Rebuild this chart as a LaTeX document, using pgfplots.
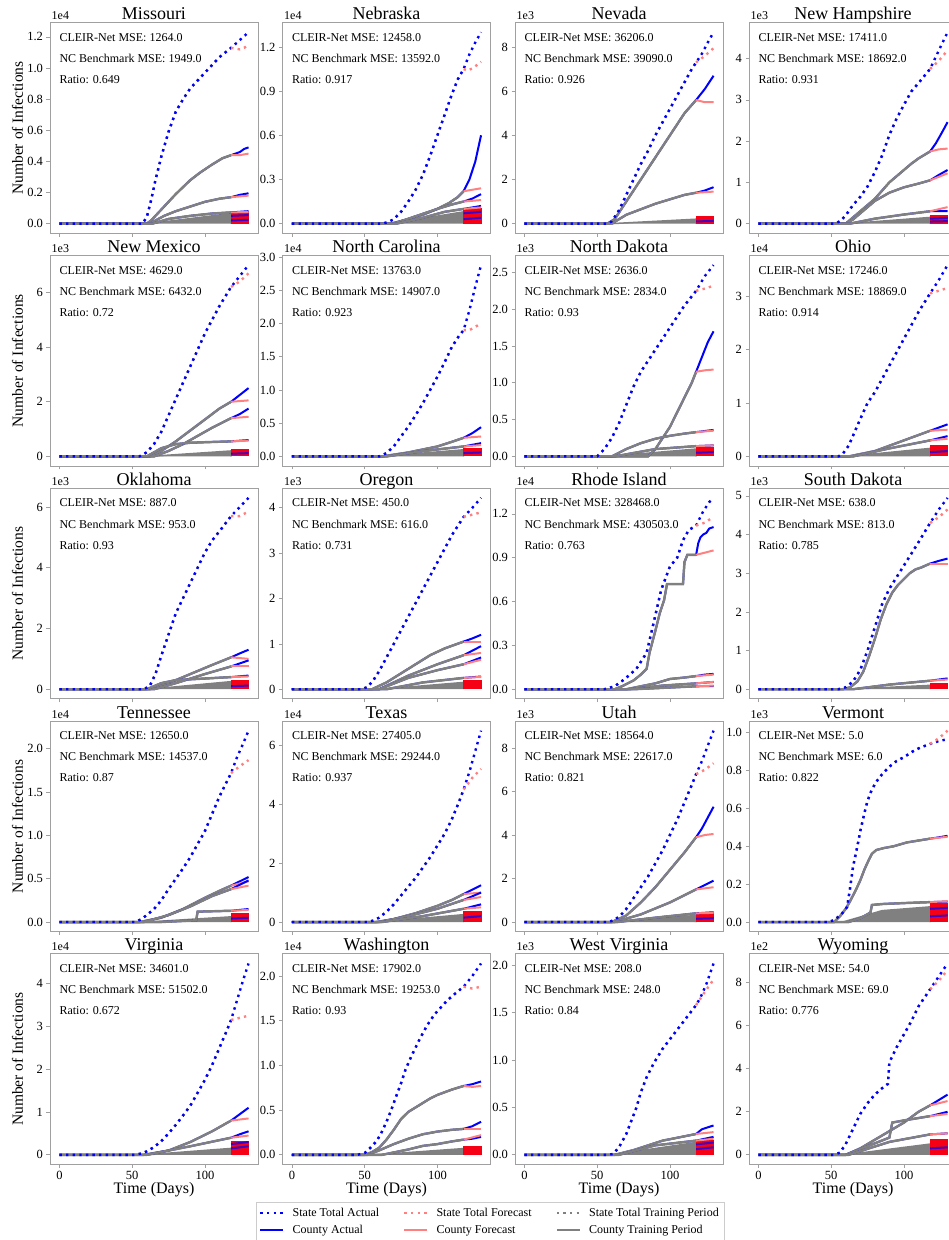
\documentclass[border=0pt]{standalone}
\usepackage{pgfplots}
\pgfplotsset{compat=1.18}
\usepackage{fontspec}
\setmainfont{Liberation Serif}
\usetikzlibrary{calc}
\definecolor{cblue}{RGB}{0,0,255}
\definecolor{csal}{RGB}{255,128,128}
\definecolor{cgray}{RGB}{128,128,128}
\definecolor{cred}{RGB}{245,0,20}
\definecolor{framec}{RGB}{160,160,160}
\newcommand\titlefont{\fontsize{18}{20}\selectfont}
\newcommand\annfont{\fontsize{12}{14}\selectfont}
\newcommand\tickfont{\fontsize{12.5}{14}\selectfont}
\newcommand\sclfont{\fontsize{12}{14}\selectfont}
\newcommand\ylabfont{\fontsize{15.5}{17}\selectfont}
\newcommand\xlabfont{\fontsize{16}{18}\selectfont}
\newcommand\legfont{\fontsize{12}{14}\selectfont}
\pgfplotsset{
 panel/.style={scale only axis, width=208pt, height=210.5pt, anchor=north west,
  xmin=-6.5, xmax=136.5, xtick={0,50,100}, xticklabels={},
  tick align=outside, tick pos=left, major tick length=3.5pt,
  every tick/.style={draw=framec, line width=0.7pt},
  axis line style={draw=framec, line width=0.8pt},
  tick label style={font=\tickfont, text=black},
  clip=false},
 bottomrow/.style={xticklabels={0,50,100}},
 sact/.style={cblue, line width=2.4pt, dash pattern=on 2.4pt off 4.2pt, forget plot},
 sfc/.style={csal, line width=2.4pt, dash pattern=on 2.4pt off 4.2pt, forget plot},
 sttr/.style={cgray, line width=2.4pt, dash pattern=on 2.4pt off 4.2pt, forget plot},
 cact/.style={cblue, line width=2pt, forget plot},
 ctr/.style={cgray, line width=2.4pt, forget plot},
 cfc/.style={csal, line width=2pt, forget plot},
 mgr/.style={fill=cgray, draw=cgray, line width=1.5pt, forget plot},
 mred/.style={fill=cred, draw=cred, line width=1pt, forget plot},
}
\newcommand\st[3]{\addplot[sttr] coordinates {#1}; \addplot[sact] coordinates {#1 #2}; \addplot[sfc] coordinates {#3};}
\newcommand\ct[3]{\addplot[cact] coordinates {#1 #2}; \addplot[ctr] coordinates {#1}; \addplot[cfc] coordinates {#3};}
\newcommand\ms[3]{\addplot[mgr] coordinates {(#1,0) (118,#2) (118,0)}; \addplot[mred] coordinates {(118,0) (118,#3) (130,#3) (130,0)};}
\newcommand\bl[2]{\addplot[cact, opacity=0.75] coordinates {(118,#1) (130,#2)};}
\newcommand\deco[5]{%
 \node[anchor=base, font=\titlefont] at ($(rel axis cs:0.5,1)+(0pt,3pt)$) {#1};
 \node[anchor=base west, font=\sclfont, inner sep=0pt] at ($(rel axis cs:0,1)+(1.5pt,3pt)$) {#2};
 \node[anchor=west, font=\annfont, inner sep=0pt] at (rel axis cs:0.045,0.93) {CLEIR-Net MSE: #3};
 \node[anchor=west, font=\annfont, inner sep=0pt] at (rel axis cs:0.045,0.83) {NC Benchmark MSE: #4};
 \node[anchor=west, font=\annfont, inner sep=0pt] at (rel axis cs:0.045,0.73) {Ratio: #5};}
\newcommand\ylab{\node[rotate=90, font=\ylabfont] at ($(rel axis cs:0,0.5)+(-32.5pt,0pt)$) {Number of Infections};}
\newcommand\xlab{\node[anchor=base, font=\xlabfont] at ($(rel axis cs:0.5,0)+(0pt,-29.5pt)$) {Time (Days)};}
\begin{document}
\begin{tikzpicture}
\useasboundingbox (0pt,0pt) rectangle (949pt,1240pt);
% ---------------- Row 1
\begin{axis}[panel, at={(50pt,1217.3pt)}, ymin=-0.0615, ymax=1.2915, ytick={0,0.2,0.4,0.6,0.8,1.0,1.2}, yticklabels={0.0,0.2,0.4,0.6,0.8,1.0,1.2}]
\ms{62}{0.065}{0.075}
\ct{(0,0)(60,0)(63,0.02)(67,0.06)(72,0.11)(80,0.19)(90,0.28)(97,0.33)(105,0.38)(112,0.42)(118,0.44)}{(121,0.45)(124,0.46)(127,0.48)(130,0.49)}{(118,0.44)(124,0.44)(130,0.45)}
\ct{(0,0)(62,0)(66,0.02)(72,0.05)(80,0.08)(90,0.11)(100,0.14)(110,0.16)(118,0.17)}{(124,0.185)(130,0.195)}{(118,0.17)(130,0.18)}
\ct{(0,0)(64,0)(75,0.03)(90,0.05)(105,0.065)(118,0.072)}{(130,0.08)}{(118,0.072)(130,0.075)}
\bl{0.02}{0.025}\bl{0.05}{0.055}
\st{(0,0)(57,0)(60,0.04)(63,0.15)(66,0.28)(70,0.43)(75,0.59)(80,0.72)(85,0.8)(90,0.87)(97,0.94)(104,1.01)(110,1.07)(118,1.13)}{(124,1.18)(130,1.23)}{(118,1.13)(124,1.12)(127,1.13)(130,1.15)}
\deco{Missouri}{1e4}{1264.0}{1949.0}{0.649}
\ylab
\end{axis}
\begin{axis}[panel, at={(282.5pt,1217.3pt)}, ymin=-0.065, ymax=1.365, ytick={0,0.3,0.6,0.9,1.2}, yticklabels={0.0,0.3,0.6,0.9,1.2}]
\ms{68}{0.08}{0.1}
\ct{(0,0)(68,0)(80,0.03)(90,0.06)(100,0.1)(108,0.14)(114,0.18)(118,0.22)}{(122,0.3)(126,0.42)(130,0.6)}{(118,0.22)(124,0.23)(130,0.24)}
\ct{(0,0)(70,0)(85,0.05)(100,0.1)(110,0.13)(118,0.15)}{(124,0.17)(130,0.2)}{(118,0.15)(130,0.16)}
\ct{(0,0)(72,0)(90,0.04)(105,0.08)(118,0.1)}{(130,0.12)}{(118,0.1)(130,0.11)}
\bl{0.03}{0.04}\bl{0.07}{0.08}
\st{(0,0)(62,0)(66,0.01)(70,0.03)(75,0.08)(80,0.15)(85,0.23)(90,0.33)(95,0.46)(100,0.6)(105,0.74)(110,0.88)(114,0.98)(118,1.05)}{(122,1.15)(126,1.23)(130,1.3)}{(118,1.05)(121,1.04)(125,1.06)(130,1.1)}
\deco{Nebraska}{1e4}{12458.0}{13592.0}{0.917}
\end{axis}
\begin{axis}[panel, at={(515pt,1217.3pt)}, ymin=-0.4335, ymax=9.1035, ytick={0,2,4,6,8}, yticklabels={0,2,4,6,8}]
\ms{60}{0.2}{0.3}
\ct{(0,0)(57,0)(62,0.2)(70,1.0)(80,2.0)(90,3.0)(100,4.0)(110,5.0)(118,5.6)}{(124,6.1)(130,6.7)}{(118,5.6)(124,5.5)(130,5.5)}
\ct{(0,0)(60,0)(70,0.4)(80,0.65)(90,0.9)(100,1.1)(110,1.3)(118,1.4)}{(124,1.5)(130,1.65)}{(118,1.4)(130,1.45)}
\bl{0.1}{0.12}
\st{(0,0)(57,0)(60,0.1)(65,0.6)(70,1.3)(75,2.0)(80,2.7)(85,3.3)(90,4.0)(95,4.6)(100,5.2)(105,5.8)(110,6.4)(115,7.0)(118,7.3)}{(122,7.7)(126,8.2)(130,8.67)}{(118,7.3)(124,7.6)(130,7.95)}
\deco{Nevada}{1e3}{36206.0}{39090.0}{0.926}
\end{axis}
\begin{axis}[panel, at={(749pt,1217.3pt)}, ymin=-0.232, ymax=4.872, ytick={0,1,2,3,4}, yticklabels={0,1,2,3,4}]
\ms{62}{0.15}{0.2}
\ct{(0,0)(60,0)(65,0.15)(70,0.3)(75,0.45)(80,0.6)(85,0.8)(90,1.0)(95,1.15)(100,1.3)(105,1.45)(110,1.58)(118,1.75)}{(122,1.95)(126,2.2)(130,2.46)}{(118,1.75)(124,1.8)(130,1.82)}
\ct{(0,0)(60,0)(65,0.1)(70,0.25)(75,0.4)(80,0.55)(85,0.65)(90,0.75)(100,0.88)(110,0.97)(118,1.05)}{(124,1.18)(130,1.3)}{(118,1.05)(130,1.22)}
\ct{(0,0)(63,0)(80,0.12)(100,0.22)(118,0.3)}{(130,0.3)}{(118,0.3)(130,0.4)}
\bl{0.05}{0.06}\bl{0.12}{0.14}
\st{(0,0)(53,0)(57,0.08)(61,0.25)(65,0.45)(70,0.65)(75,0.9)(80,1.25)(85,1.65)(90,2.15)(95,2.55)(100,2.88)(105,3.2)(111,3.45)(118,3.75)}{(124,4.2)(130,4.64)}{(118,3.75)(124,3.95)(130,4.2)}
\deco{New Hampshire}{1e3}{17411.0}{18692.0}{0.931}
\end{axis}
% ---------------- Row 2
\begin{axis}[panel, at={(50pt,984.5pt)}, ymin=-0.35, ymax=7.35, ytick={0,2,4,6}, yticklabels={0,2,4,6}]
\ms{62}{0.2}{0.25}
\ct{(0,0)(62,0)(70,0.2)(80,0.55)(90,0.95)(100,1.35)(110,1.75)(118,2.0)}{(124,2.25)(130,2.5)}{(118,2.0)(130,2.05)}
\ct{(0,0)(65,0)(75,0.2)(85,0.45)(95,0.75)(105,1.05)(118,1.4)}{(124,1.55)(130,1.75)}{(118,1.4)(130,1.45)}
\ct{(0,0)(60,0)(70,0.3)(80,0.45)(90,0.5)(100,0.52)(118,0.55)}{(130,0.6)}{(118,0.55)(130,0.58)}
\bl{0.1}{0.12}
\st{(0,0)(55,0)(60,0.15)(65,0.45)(70,0.9)(75,1.5)(80,2.1)(85,2.7)(90,3.3)(95,3.9)(100,4.5)(105,5.0)(110,5.5)(118,6.2)}{(124,6.6)(130,7.0)}{(118,6.2)(124,6.4)(130,6.7)}
\deco{New Mexico}{1e3}{4629.0}{6432.0}{0.72}
\ylab
\end{axis}
\begin{axis}[panel, at={(282.5pt,984.5pt)}, ymin=-0.144, ymax=3.024, ytick={0,0.5,1.0,1.5,2.0,2.5,3.0}, yticklabels={0.0,0.5,1.0,1.5,2.0,2.5,3.0}]
\ms{62}{0.1}{0.12}
\ct{(0,0)(62,0)(80,0.06)(100,0.15)(110,0.22)(118,0.28)}{(124,0.35)(130,0.44)}{(118,0.28)(130,0.3)}
\ct{(0,0)(65,0)(90,0.08)(118,0.15)}{(130,0.2)}{(118,0.15)(130,0.17)}
\bl{0.05}{0.06}
\st{(0,0)(60,0)(65,0.05)(70,0.15)(75,0.3)(80,0.45)(85,0.62)(90,0.8)(95,1.0)(100,1.2)(105,1.42)(110,1.65)(115,1.82)(118,1.9)}{(122,2.2)(126,2.55)(130,2.88)}{(118,1.9)(122,1.9)(126,1.95)(130,2.0)}
\deco{North Carolina}{1e4}{13763.0}{14907.0}{0.923}
\end{axis}
\begin{axis}[panel, at={(515pt,984.5pt)}, ymin=-0.13, ymax=2.73, ytick={0,0.5,1.0,1.5,2.0,2.5}, yticklabels={0.0,0.5,1.0,1.5,2.0,2.5}]
\ms{58}{0.1}{0.12}
\ct{(0,0)(85,0)(90,0.1)(95,0.25)(100,0.4)(105,0.6)(110,0.8)(115,1.0)(118,1.15)}{(122,1.35)(126,1.55)(130,1.7)}{(118,1.15)(124,1.17)(130,1.18)}
\ct{(0,0)(60,0)(70,0.1)(80,0.18)(90,0.24)(100,0.28)(110,0.31)(118,0.33)}{(130,0.36)}{(118,0.33)(130,0.35)}
\ct{(0,0)(62,0)(90,0.1)(118,0.14)}{(130,0.15)}{(118,0.14)(130,0.15)}
\bl{0.05}{0.06}
\st{(0,0)(50,0)(55,0.1)(60,0.25)(65,0.45)(70,0.7)(75,0.95)(80,1.15)(85,1.3)(90,1.45)(95,1.6)(100,1.75)(105,1.9)(110,2.05)(118,2.25)}{(124,2.45)(130,2.6)}{(118,2.25)(124,2.28)(130,2.32)}
\deco{North Dakota}{1e3}{2636.0}{2834.0}{0.93}
\end{axis}
\begin{axis}[panel, at={(749pt,984.5pt)}, ymin=-0.179, ymax=3.759, ytick={0,1,2,3}, yticklabels={0,1,2,3}]
\ms{62}{0.15}{0.2}
\ct{(0,0)(62,0)(80,0.1)(100,0.3)(118,0.48)}{(124,0.54)(130,0.6)}{(118,0.48)(130,0.5)}
\ct{(0,0)(65,0)(90,0.15)(118,0.3)}{(130,0.38)}{(118,0.3)(130,0.33)}
\bl{0.08}{0.1}
\st{(0,0)(55,0)(58,0.05)(62,0.2)(66,0.45)(70,0.7)(75,1.0)(80,1.2)(85,1.45)(90,1.7)(95,1.95)(100,2.2)(105,2.45)(110,2.7)(118,3.05)}{(124,3.3)(130,3.58)}{(118,3.05)(124,3.1)(130,3.15)}
\deco{Ohio}{1e4}{17246.0}{18869.0}{0.914}
\end{axis}
% ---------------- Row 3
\begin{axis}[panel, at={(50pt,751.7pt)}, ymin=-0.315, ymax=6.615, ytick={0,2,4,6}, yticklabels={0,2,4,6}]
\ms{62}{0.25}{0.3}
\ct{(0,0)(62,0)(75,0.2)(90,0.5)(105,0.8)(118,1.05)}{(124,1.18)(130,1.3)}{(118,1.05)(130,1.0)}
\ct{(0,0)(65,0)(80,0.2)(100,0.5)(118,0.75)}{(130,0.95)}{(118,0.75)(130,0.75)}
\ct{(0,0)(60,0)(70,0.2)(80,0.3)(118,0.4)}{(130,0.45)}{(118,0.4)(130,0.42)}
\bl{0.1}{0.12}
\st{(0,0)(58,0)(62,0.1)(66,0.5)(70,1.1)(75,1.8)(80,2.5)(85,3.0)(90,3.5)(95,4.0)(100,4.5)(105,4.9)(110,5.2)(118,5.7)}{(124,6.0)(130,6.3)}{(118,5.7)(124,5.7)(130,5.85)}
\deco{Oklahoma}{1e3}{887.0}{953.0}{0.93}
\ylab
\end{axis}
\begin{axis}[panel, at={(282.5pt,751.7pt)}, ymin=-0.211, ymax=4.431, ytick={0,1,2,3,4}, yticklabels={0,1,2,3,4}]
\ms{62}{0.15}{0.2}
\ct{(0,0)(55,0)(65,0.15)(75,0.35)(85,0.55)(95,0.75)(105,0.9)(118,1.05)}{(124,1.12)(130,1.2)}{(118,1.05)(130,1.05)}
\ct{(0,0)(60,0)(80,0.3)(100,0.55)(118,0.75)}{(130,0.95)}{(118,0.75)(130,0.8)}
\ct{(0,0)(60,0)(80,0.25)(100,0.42)(118,0.55)}{(130,0.7)}{(118,0.55)(130,0.65)}
\ct{(0,0)(65,0)(90,0.15)(118,0.25)}{(130,0.28)}{(118,0.25)(130,0.27)}
\st{(0,0)(48,0)(52,0.05)(56,0.2)(60,0.4)(65,0.7)(70,1.0)(75,1.3)(80,1.6)(85,1.9)(90,2.2)(95,2.5)(100,2.8)(105,3.1)(110,3.4)(118,3.8)}{(124,4.0)(130,4.22)}{(118,3.8)(124,3.85)(130,3.9)}
\deco{Oregon}{1e3}{450.0}{616.0}{0.731}
\end{axis}
\begin{axis}[panel, at={(515pt,751.7pt)}, ymin=-0.0655, ymax=1.3755, ytick={0,0.3,0.6,0.9,1.2}, yticklabels={0.0,0.3,0.6,0.9,1.2}]
\ct{(0,0)(62,0)(67,0.02)(75,0.06)(80,0.1)(84,0.14)(86,0.25)(90,0.4)(93,0.52)(96,0.61)(98,0.72)(109,0.72)(110,0.87)(112,0.92)(118,0.92)}{(119.5,1.0)(121,1.04)(123,1.06)(125,1.07)(127,1.1)(130,1.11)}{(118,0.92)(130,0.95)}
\ct{(0,0)(70,0)(90,0.04)(100,0.07)(110,0.08)(118,0.09)}{(124,0.1)(130,0.105)}{(118,0.09)(130,0.1)}
\ct{(0,0)(72,0)(95,0.025)(118,0.04)}{(130,0.05)}{(118,0.04)(130,0.05)}
\ct{(0,0)(75,0)(118,0.02)}{(130,0.022)}{(118,0.02)(130,0.025)}
\st{(0,0)(55,0)(62,0.02)(69,0.07)(77,0.14)(84,0.25)(88,0.42)(94,0.68)(100,0.84)(105,0.9)(109,1.02)(113,1.09)(118,1.12)}{(123,1.22)(127,1.28)(130,1.31)}{(118,1.12)(124,1.14)(130,1.18)}
\deco{Rhode Island}{1e4}{328468.0}{430503.0}{0.763}
\end{axis}
\begin{axis}[panel, at={(749pt,751.7pt)}, ymin=-0.2475, ymax=5.1975, ytick={0,1,2,3,4,5}, yticklabels={0,1,2,3,4,5}]
\ms{62}{0.1}{0.15}
\ct{(0,0)(58,0)(63,0.05)(68,0.2)(72,0.45)(76,0.85)(80,1.3)(84,1.8)(88,2.2)(92,2.5)(96,2.7)(100,2.85)(104,3.0)(108,3.1)(112,3.15)(118,3.25)}{(124,3.32)(130,3.38)}{(118,3.25)(130,3.25)}
\ct{(0,0)(65,0)(90,0.12)(118,0.22)}{(130,0.28)}{(118,0.22)(130,0.25)}
\st{(0,0)(55,0)(60,0.05)(65,0.2)(70,0.5)(75,1.0)(80,1.6)(85,2.2)(90,2.6)(95,2.9)(100,3.2)(105,3.5)(110,3.8)(118,4.3)}{(124,4.65)(130,4.95)}{(118,4.3)(124,4.45)(130,4.65)}
\deco{South Dakota}{1e3}{638.0}{813.0}{0.785}
\end{axis}
% ---------------- Row 4
\begin{axis}[panel, at={(50pt,518.9pt)}, ymin=-0.1105, ymax=2.3205, ytick={0,0.5,1.0,1.5,2.0}, yticklabels={0.0,0.5,1.0,1.5,2.0}]
\ms{60}{0.06}{0.1}
\ct{(0,0)(55,0)(70,0.05)(85,0.15)(100,0.28)(110,0.36)(118,0.42)}{(124,0.47)(130,0.52)}{(118,0.42)(130,0.47)}
\ct{(0,0)(58,0)(75,0.08)(90,0.18)(105,0.3)(118,0.38)}{(124,0.43)(130,0.48)}{(118,0.38)(130,0.42)}
\ct{(0,0)(70,0)(94,0.02)(95,0.12)(118,0.13)}{(130,0.15)}{(118,0.13)(130,0.14)}
\bl{0.04}{0.05}
\st{(0,0)(52,0)(56,0.03)(60,0.08)(65,0.15)(70,0.25)(75,0.38)(80,0.5)(85,0.62)(90,0.75)(95,0.9)(100,1.05)(105,1.25)(110,1.45)(115,1.62)(118,1.72)}{(122,1.9)(126,2.05)(130,2.21)}{(118,1.72)(124,1.8)(130,1.87)}
\deco{Tennessee}{1e4}{12650.0}{14537.0}{0.87}
\ylab
\end{axis}
\begin{axis}[panel, at={(282.5pt,518.9pt)}, ymin=-0.325, ymax=6.825, ytick={0,2,4,6}, yticklabels={0,2,4,6}]
\ms{60}{0.25}{0.35}
\ct{(0,0)(58,0)(70,0.1)(85,0.3)(100,0.55)(110,0.75)(118,0.95)}{(124,1.1)(130,1.25)}{(118,0.95)(130,1.0)}
\ct{(0,0)(60,0)(80,0.2)(100,0.45)(118,0.75)}{(130,1.0)}{(118,0.75)(130,0.85)}
\ct{(0,0)(62,0)(90,0.2)(118,0.45)}{(130,0.6)}{(118,0.45)(130,0.5)}
\bl{0.15}{0.2}
\st{(0,0)(52,0)(56,0.05)(60,0.15)(65,0.35)(70,0.6)(75,0.9)(80,1.2)(85,1.5)(90,1.85)(95,2.2)(100,2.6)(105,3.0)(110,3.5)(115,4.1)(118,4.5)}{(122,5.1)(126,5.8)(130,6.5)}{(118,4.5)(124,4.9)(130,5.2)}
\deco{Texas}{1e4}{27405.0}{29244.0}{0.937}
\end{axis}
\begin{axis}[panel, at={(515pt,518.9pt)}, ymin=-0.44, ymax=9.24, ytick={0,2,4,6,8}, yticklabels={0,2,4,6,8}]
\ms{62}{0.3}{0.4}
\ct{(0,0)(60,0)(70,0.3)(80,0.9)(90,1.6)(100,2.4)(110,3.2)(118,3.9)}{(122,4.3)(126,4.8)(130,5.3)}{(118,3.9)(124,4.0)(130,4.05)}
\ct{(0,0)(62,0)(80,0.35)(100,0.9)(118,1.5)}{(124,1.7)(130,1.9)}{(118,1.5)(130,1.6)}
\ct{(0,0)(64,0)(90,0.2)(118,0.4)}{(130,0.45)}{(118,0.4)(130,0.42)}
\bl{0.15}{0.18}
\st{(0,0)(58,0)(62,0.1)(66,0.3)(70,0.6)(75,1.1)(80,1.6)(85,2.1)(90,2.7)(95,3.3)(100,4.0)(105,4.7)(110,5.5)(115,6.3)(118,6.8)}{(122,7.4)(126,8.1)(130,8.8)}{(118,6.8)(124,7.0)(130,7.3)}
\deco{Utah}{1e3}{18564.0}{22617.0}{0.821}
\end{axis}
\begin{axis}[panel, at={(749pt,518.9pt)}, ymin=-0.0505, ymax=1.0605, ytick={0,0.2,0.4,0.6,0.8,1.0}, yticklabels={0.0,0.2,0.4,0.6,0.8,1.0}]
\addplot[mgr] coordinates {(58,0) (85,0.06) (118,0.08) (118,0)};
\addplot[mred] coordinates {(118,0) (118,0.1) (130,0.1) (130,0)};
\ct{(0,0)(52,0)(56,0.03)(60,0.07)(63,0.11)(67,0.17)(70,0.22)(73,0.28)(76,0.33)(78,0.36)(81,0.38)(86,0.39)(93,0.4)(102,0.42)(110,0.43)(118,0.44)}{(124,0.447)(130,0.455)}{(118,0.44)(130,0.45)}
\ct{(0,0)(62,0)(70,0.02)(77,0.05)(78,0.09)(85,0.095)(100,0.1)(118,0.105)}{(130,0.108)}{(118,0.105)(130,0.11)}
\bl{0.03}{0.035}\bl{0.07}{0.075}
\st{(0,0)(48,0)(52,0.01)(57,0.04)(61,0.08)(63,0.18)(65,0.29)(68,0.4)(70,0.48)(73,0.58)(75,0.64)(78,0.7)(81,0.74)(85,0.78)(90,0.82)(95,0.85)(100,0.87)(106,0.9)(111,0.92)(118,0.94)}{(124,0.955)(130,0.965)}{(118,0.94)(124,0.97)(130,1.01)}
\deco{Vermont}{1e3}{5.0}{6.0}{0.822}
\end{axis}
% ---------------- Row 5
\begin{axis}[panel, bottomrow, at={(50pt,286.1pt)}, ymin=-0.2235, ymax=4.6935, ytick={0,1,2,3,4}, yticklabels={0,1,2,3,4}]
\ms{60}{0.15}{0.3}
\ct{(0,0)(58,0)(75,0.1)(90,0.3)(105,0.55)(118,0.8)}{(124,0.95)(130,1.1)}{(118,0.8)(130,0.85)}
\ct{(0,0)(60,0)(90,0.2)(118,0.4)}{(124,0.48)(130,0.55)}{(118,0.4)(130,0.45)}
\bl{0.15}{0.2}\bl{0.25}{0.3}
\st{(0,0)(52,0)(56,0.03)(60,0.08)(65,0.18)(70,0.32)(75,0.5)(80,0.7)(85,0.92)(90,1.15)(95,1.45)(100,1.75)(105,2.1)(110,2.5)(115,2.9)(118,3.15)}{(122,3.6)(126,4.05)(130,4.47)}{(118,3.15)(124,3.2)(130,3.25)}
\deco{Virginia}{1e4}{34601.0}{51502.0}{0.672}
\ylab\xlab
\end{axis}
\begin{axis}[panel, bottomrow, at={(282.5pt,286.1pt)}, ymin=-0.107, ymax=2.247, ytick={0,0.5,1.0,1.5,2.0}, yticklabels={0.0,0.5,1.0,1.5,2.0},
 legend columns=3, legend cell align=left,
 legend image code/.code={\draw[#1] (0pt,0pt) -- (23pt,0pt); \path (29pt,0pt);},
 legend style={at={(rel axis cs:-0.127,-0.179)}, anchor=north west, draw=black!20, font=\legfont, inner ysep=4pt, row sep=3pt, /tikz/every even column/.append style={column sep=22pt}}]
\addlegendimage{sact}\addlegendentry{State Total Actual}
\addlegendimage{sfc}\addlegendentry{State Total Forecast}
\addlegendimage{sttr}\addlegendentry{State Total Training Period}
\addlegendimage{cact}\addlegendentry{County Actual}
\addlegendimage{cfc}\addlegendentry{County Forecast}
\addlegendimage{ctr}\addlegendentry{County Training Period}
\ms{58}{0.07}{0.09}
\ct{(0,0)(50,0)(55,0.03)(60,0.08)(65,0.17)(70,0.28)(75,0.4)(80,0.48)(85,0.53)(90,0.58)(95,0.63)(100,0.67)(105,0.7)(110,0.73)(118,0.77)}{(124,0.79)(130,0.82)}{(118,0.77)(124,0.76)(130,0.77)}
\ct{(0,0)(52,0)(60,0.05)(70,0.12)(80,0.18)(90,0.23)(100,0.26)(110,0.28)(118,0.29)}{(124,0.32)(130,0.37)}{(118,0.29)(130,0.29)}
\ct{(0,0)(62,0)(80,0.06)(90,0.1)(100,0.12)(110,0.15)(118,0.17)}{(124,0.18)(130,0.2)}{(118,0.17)(130,0.22)}
\st{(0,0)(45,0)(50,0.02)(54,0.08)(58,0.15)(61,0.23)(65,0.37)(68,0.49)(72,0.67)(75,0.8)(78,0.95)(82,1.1)(88,1.3)(93,1.45)(98,1.57)(103,1.66)(107,1.73)(112,1.8)(118,1.88)}{(124,2.0)(130,2.14)}{(118,1.88)(124,1.86)(130,1.88)}
\deco{Washington}{1e4}{17902.0}{19253.0}{0.93}
\xlab
\end{axis}
\begin{axis}[panel, bottomrow, at={(515pt,286.1pt)}, ymin=-0.101, ymax=2.121, ytick={0,0.5,1.0,1.5,2.0}, yticklabels={0.0,0.5,1.0,1.5,2.0}]
\ms{60}{0.13}{0.15}
\ct{(0,0)(62,0)(75,0.05)(85,0.1)(95,0.15)(105,0.18)(118,0.22)}{(122,0.27)(126,0.29)(130,0.31)}{(118,0.22)(130,0.24)}
\ct{(0,0)(65,0)(90,0.1)(118,0.15)}{(130,0.19)}{(118,0.15)(130,0.17)}
\bl{0.06}{0.08}\bl{0.11}{0.13}
\st{(0,0)(58,0)(61,0.01)(65,0.08)(70,0.22)(74,0.38)(77,0.5)(80,0.66)(84,0.82)(89,0.97)(95,1.12)(100,1.22)(105,1.32)(110,1.42)(114,1.5)(118,1.58)}{(121,1.66)(125,1.8)(130,2.02)}{(118,1.58)(124,1.72)(130,1.85)}
\deco{West Virginia}{1e3}{208.0}{248.0}{0.84}
\xlab
\end{axis}
\begin{axis}[panel, bottomrow, at={(749pt,286.1pt)}, ymin=-0.445, ymax=9.345, ytick={0,2,4,6,8}, yticklabels={0,2,4,6,8}]
\ms{60}{0.5}{0.7}
\ct{(0,0)(60,0)(70,0.3)(80,0.7)(90,1.1)(100,1.5)(110,2.0)(118,2.3)}{(124,2.55)(130,2.8)}{(118,2.3)(130,2.5)}
\ct{(0,0)(60,0)(75,0.4)(90,0.8)(92,1.5)(100,1.6)(118,1.8)}{(130,2.0)}{(118,1.8)(130,1.9)}
\ct{(0,0)(62,0)(90,0.6)(118,0.95)}{(130,1.0)}{(118,0.95)(130,1.0)}
\bl{0.3}{0.35}
\st{(0,0)(52,0)(56,0.1)(60,0.5)(65,1.2)(70,1.9)(75,2.4)(80,2.8)(85,3.1)(89,3.3)(90,4.3)(95,5.0)(100,5.6)(105,6.2)(110,6.9)(118,7.7)}{(124,8.3)(130,8.9)}{(118,7.7)(124,8.1)(130,8.6)}
\deco{Wyoming}{1e2}{54.0}{69.0}{0.776}
\xlab
\end{axis}
\end{tikzpicture}
\end{document}
